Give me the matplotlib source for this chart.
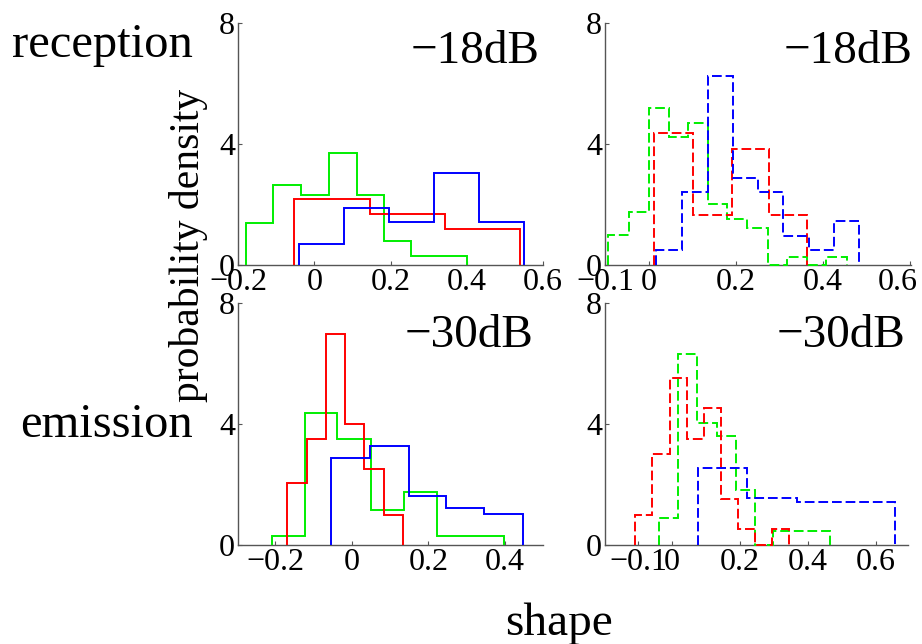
import matplotlib
matplotlib.use("Agg")
import matplotlib.pyplot as plt
from matplotlib.transforms import ScaledTranslation

plt.rcParams['font.family'] = ['Liberation Serif', 'DejaVu Serif']

# histogram bin edges / densities, read per panel and colour
# top row: reception, bottom row: emission; left column solid, right column dashed
rec_left_green_edges = [-0.180, -0.107, -0.034, 0.038, 0.111, 0.184, 0.255, 0.328, 0.400]
rec_left_green_dens = [1.40, 2.63, 2.33, 3.71, 2.33, 0.79, 0.31, 0.31]
rec_left_red_edges = [-0.052, 0.147, 0.344, 0.539]
rec_left_red_dens = [2.17, 1.69, 1.20]
rec_left_blue_edges = [-0.040, 0.079, 0.197, 0.315, 0.432, 0.550]
rec_left_blue_dens = [0.70, 1.87, 1.43, 3.05, 1.43]

rec_right_green_edges = [-0.093, -0.047, -0.001, 0.045, 0.090, 0.136, 0.180, 0.226, 0.274, 0.317, 0.363, 0.407, 0.455]
rec_right_green_dens = [0.99, 1.74, 5.19, 4.24, 4.70, 2.01, 1.51, 1.23, 0.0, 0.25, 0.0, 0.25]
rec_right_red_edges = [0.012, 0.102, 0.190, 0.275, 0.363]
rec_right_red_dens = [4.38, 1.65, 3.83, 1.65]
rec_right_blue_edges = [0.016, 0.077, 0.135, 0.193, 0.251, 0.309, 0.368, 0.426, 0.482]
rec_right_blue_dens = [0.50, 2.40, 6.26, 2.89, 2.40, 0.97, 0.50, 1.46]

emi_left_green_edges = [-0.209, -0.122, -0.038, 0.051, 0.135, 0.222, 0.309, 0.396]
emi_left_green_dens = [0.30, 4.35, 3.49, 1.16, 1.75, 0.30, 0.30]
emi_left_red_edges = [-0.168, -0.118, -0.067, -0.017, 0.032, 0.083, 0.133]
emi_left_red_dens = [2.04, 3.50, 6.99, 3.99, 2.50, 0.99]
emi_left_blue_edges = [-0.053, 0.048, 0.148, 0.247, 0.346, 0.446]
emi_left_blue_dens = [2.86, 3.27, 1.63, 1.22, 1.02]

emi_right_green_edges = [-0.037, 0.019, 0.075, 0.131, 0.187, 0.243, 0.298, 0.354, 0.410, 0.466]
emi_right_green_dens = [0.90, 6.33, 4.04, 3.61, 1.82, 0.0, 0.46, 0.46, 0.46]
emi_right_red_edges = [-0.108, -0.058, -0.007, 0.043, 0.093, 0.143, 0.193, 0.243, 0.293, 0.343]
emi_right_red_dens = [0.99, 3.00, 5.52, 3.52, 4.53, 1.51, 0.52, 0.0, 0.52]
emi_right_blue_edges = [0.077, 0.222, 0.368, 0.513, 0.657]
emi_right_blue_dens = [2.55, 1.56, 1.42, 1.42]

level_labels = ['\u221218dB', '\u221230dB']
row_labels = ['reception', 'emission']

y_ticks = [0, 4, 8]
y_ticklabels = ['0', '4', '8']
rec_left_xticks = [-0.2, 0, 0.2, 0.4, 0.6]
rec_left_xlabels = ['\u22120.2', '0', '0.2', '0.4', '0.6']
rec_right_xticks = [-0.1, 0, 0.2, 0.4, 0.6]
rec_right_xlabels = ['\u22120.1', '0', '0.2', '0.4', '0.6']
emi_left_xticks = [-0.2, 0, 0.2, 0.4]
emi_left_xlabels = ['\u22120.2', '0', '0.2', '0.4']
emi_right_xticks = [-0.1, 0, 0.2, 0.4, 0.6]
emi_right_xlabels = ['\u22120.1', '0', '0.2', '0.4', '0.6']

W, H = 922, 644
fig = plt.figure(figsize=(W / 100, H / 100), dpi=100)


def px_axes(x0, x1, ytop, ybot):
    return fig.add_axes([x0 / W, 1 - ybot / H, (x1 - x0) / W, (ybot - ytop) / H])


ax_rl = px_axes(238, 543, 23, 265)
ax_rr = px_axes(605, 911, 23, 265)
ax_el = px_axes(238, 543, 303, 545)
ax_er = px_axes(605, 908, 303, 545)

dash = (0, (5, 2))
colors = {'red': '#ff0000', 'green': '#00ee00', 'blue': '#0000ff'}

panels = [
    (ax_rl, (-0.196, 0.597), '-', rec_left_xticks, rec_left_xlabels,
     [('green', rec_left_green_edges, rec_left_green_dens),
      ('red', rec_left_red_edges, rec_left_red_dens),
      ('blue', rec_left_blue_edges, rec_left_blue_dens)]),
    (ax_rr, (-0.101, 0.602), dash, rec_right_xticks, rec_right_xlabels,
     [('green', rec_right_green_edges, rec_right_green_dens),
      ('red', rec_right_red_edges, rec_right_red_dens),
      ('blue', rec_right_blue_edges, rec_right_blue_dens)]),
    (ax_el, (-0.297, 0.499), '-', emi_left_xticks, emi_left_xlabels,
     [('green', emi_left_green_edges, emi_left_green_dens),
      ('red', emi_left_red_edges, emi_left_red_dens),
      ('blue', emi_left_blue_edges, emi_left_blue_dens)]),
    (ax_er, (-0.197, 0.694), dash, emi_right_xticks, emi_right_xlabels,
     [('green', emi_right_green_edges, emi_right_green_dens),
      ('red', emi_right_red_edges, emi_right_red_dens),
      ('blue', emi_right_blue_edges, emi_right_blue_dens)]),
]

for ax, xlim, ls, xt, xl, series in panels:
    for cname, edges, dens in series:
        ax.stairs(dens, edges, baseline=0, fill=False, color=colors[cname],
                  linewidth=1.4, linestyle=ls, clip_on=False, zorder=3)
    ax.set_xlim(*xlim)
    ax.set_ylim(0, 8)
    ax.set_xticks(xt)
    ax.set_xticklabels(xl)
    ax.set_yticks(y_ticks)
    ax.set_yticklabels(y_ticklabels)
    for side in ('top', 'right'):
        ax.spines[side].set_visible(False)
    for side in ('left', 'bottom'):
        ax.spines[side].set_color('#555555')
        ax.spines[side].set_linewidth(1.0)
    ax.tick_params(direction='in', length=3, width=0.8, color='#555555',
                   labelsize=23, pad=2)
    ax.patch.set_visible(False)

# keep the last tick label of the top-right panel inside the figure
last = ax_rr.get_xticklabels()[-1]
last.set_transform(last.get_transform() + ScaledTranslation(-0.12, 0, fig.dpi_scale_trans))

# noise level tags in the top-right corner of each panel
ax_rl.text(0.99, 0.835, level_labels[0], transform=ax_rl.transAxes,
           ha='right', va='baseline', fontsize=34)
ax_rr.text(1.006, 0.835, level_labels[0], transform=ax_rr.transAxes,
           ha='right', va='baseline', fontsize=34)
ax_el.text(0.967, 0.817, level_labels[1], transform=ax_el.transAxes,
           ha='right', va='baseline', fontsize=34)
ax_er.text(0.99, 0.817, level_labels[1], transform=ax_er.transAxes,
           ha='right', va='baseline', fontsize=34)

fig.text(193 / W, 1 - 57 / H, row_labels[0], ha='right', va='baseline', fontsize=35)
fig.text(193 / W, 1 - 437 / H, row_labels[1], ha='right', va='baseline', fontsize=35)
fig.text(188.5 / W, 1 - 245 / H, 'probability density', rotation=90,
         ha='center', va='center', fontsize=30)
fig.text(559 / W, 1 - 635 / H, 'shape', ha='center', va='baseline', fontsize=34)

fig.savefig('out.png', dpi=100)
